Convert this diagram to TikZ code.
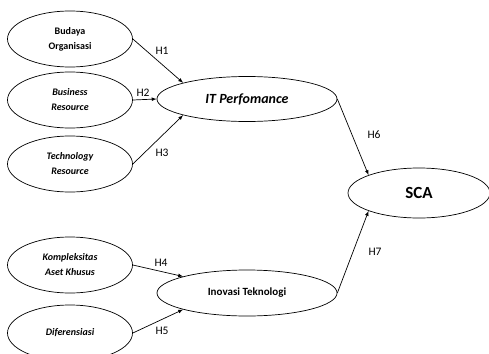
\documentclass[tikz,border=0pt]{standalone}
\usepackage{fontspec}
\setmainfont{Carlito}
\usetikzlibrary{shapes.geometric}

\tikzset{
  var/.style={draw, ellipse, inner sep=0pt, align=center, line width=0.7pt,
    minimum width=125pt, minimum height=56pt,
    font=\fontsize{10}{15}\selectfont\bfseries},
  hyp/.style={font=\fontsize{11.5}{13}\selectfont, inner sep=0pt},
  arr/.style={-latex, line width=0.7pt},
}

\begin{document}
\begin{tikzpicture}[x=1pt,y=-1pt]
	\useasboundingbox (0,0) rectangle (489,353);

	% independent variables
	\node[var] (bo) at (70,39) {Budaya\\Organisasi};
	\node[var] (br) at (70,100) {\itshape Business\\\itshape Resource};
	\node[var] (tr) at (70,164) {\itshape Technology\\\itshape Resource};
	\node[var] (ka) at (70,265) {\itshape Kompleksitas\\\itshape Aset Khusus};
	\node[var] (di) at (70,333) {\itshape Diferensiasi};

	% mediators and outcome
	\node[var, minimum width=180pt, minimum height=45pt, font=\fontsize{14}{16}\selectfont\bfseries\itshape] (itp) at (247,99) {IT Perfomance};
	\node[var, minimum width=180pt, minimum height=46pt, font=\fontsize{11}{13}\selectfont\bfseries] (ino) at (247,293) {Inovasi Teknologi};
	\node[var, minimum width=142pt, minimum height=50pt, font=\fontsize{17}{19}\selectfont\bfseries] (sca) at (419,193) {SCA};

	\draw[arr] (bo.east) -- (itp.north west);
	\draw[arr] (br.east) -- (itp.west);
	\draw[arr] (tr.east) -- (itp.south west);
	\draw[arr] (ka.east) -- (ino.north west);
	\draw[arr] (di.east) -- (ino.south west);
	\draw[arr] (itp.east) -- (sca.north west);
	\draw[arr] (ino.east) -- (sca.south west);

	\node[hyp] (h1) at (162,51) {H1};
	\node[hyp] (h2) at (143,93) {H2};
	\node[hyp] (h3) at (162,153) {H3};
	\node[hyp] (h4) at (161,263) {H4};
	\node[hyp] (h5) at (162,331) {H5};
	\node[hyp] (h6) at (374,135) {H6};
	\node[hyp] (h7) at (375,252) {H7};
\end{tikzpicture}
\end{document}
